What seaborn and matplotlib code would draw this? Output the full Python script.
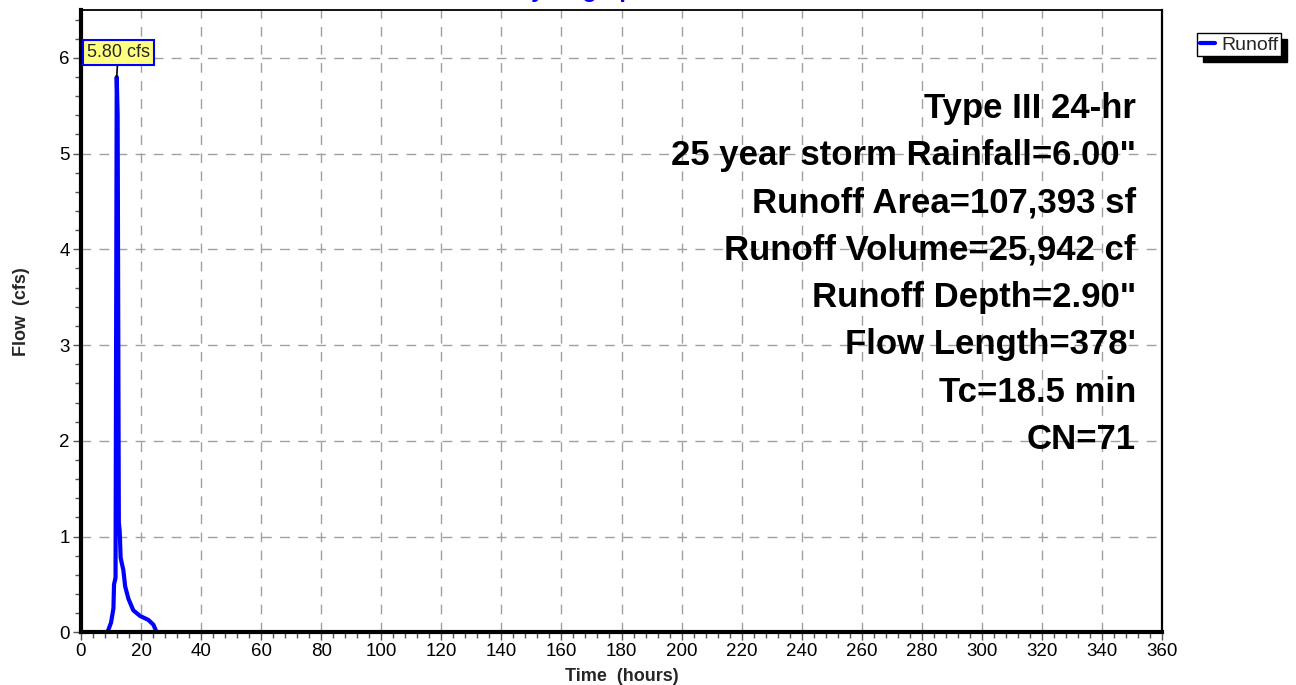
import matplotlib
matplotlib.use("Agg")
import matplotlib.pyplot as plt
from matplotlib.ticker import MultipleLocator
import seaborn as sns
import pandas as pd

# Hydrograph values (hours, cfs)
time_hr = [0, 8.8, 10.0, 10.8, 11.0, 11.5, 11.9, 12.2, 12.6, 12.9, 13.2, 13.6,
           14.1, 14.7, 15.8, 17.4, 19.7, 22.4, 24.1, 25.2, 360]
flow_cfs = [0, 0, 0.10, 0.25, 0.50, 0.57, 5.80, 5.40, 1.15, 1.05, 0.78, 0.72,
            0.65, 0.48, 0.35, 0.23, 0.17, 0.13, 0.08, 0.0, 0]
peak_label = "5.80 cfs"
series_name = "Runoff"
info_lines = [
    "Type III 24-hr",
    "25 year storm Rainfall=6.00\"",
    "Runoff Area=107,393 sf",
    "Runoff Volume=25,942 cf",
    "Runoff Depth=2.90\"",
    "Flow Length=378'",
    "Tc=18.5 min",
    "CN=71",
]

df = pd.DataFrame({"Time": time_hr, "Flow": flow_cfs, "series": series_name})

sns.set_theme(style="white")
plt.rcParams["font.family"] = ["Liberation Sans", "DejaVu Sans"]

W, H = 1296, 685
fig = plt.figure(figsize=(W / 100, H / 100), dpi=100)
ax = fig.add_axes([81 / W, 1 - 632.3 / H, (1162 - 81) / W, (632.3 - 10) / H])

sns.lineplot(data=df, x="Time", y="Flow", hue="series", palette=["#0000ff"],
             linewidth=3, ax=ax, legend=False)

ax.set_xlim(0, 360)
ax.set_ylim(0, 6.5)
ax.xaxis.set_major_locator(MultipleLocator(20))
ax.xaxis.set_minor_locator(MultipleLocator(4))
ax.yaxis.set_major_locator(MultipleLocator(1))
ax.yaxis.set_minor_locator(MultipleLocator(0.2))
ax.tick_params(axis="both", which="major", direction="out", length=6, width=1,
               color="#555555", labelsize=13.5, labelcolor="black", pad=2)
ax.tick_params(axis="both", which="minor", direction="out", length=4, width=1,
               color="#555555")
ax.tick_params(axis="x", which="both", bottom=True)
ax.tick_params(axis="y", which="both", left=True)

ax.grid(True, which="major", color="#a0a0a0", linestyle=(0, (7, 6)), linewidth=1)

for side, lw in [("left", 3), ("bottom", 3), ("top", 1.3), ("right", 1.6)]:
    ax.spines[side].set_visible(True)
    ax.spines[side].set_color("black")
    ax.spines[side].set_linewidth(lw)

ax.set_xlabel("Time  (hours)", fontsize=13, fontweight="bold")
ax.set_ylabel("Flow  (cfs)", fontsize=13, fontweight="bold")
ax.xaxis.set_label_coords(0.5, -0.057)
ax.yaxis.set_label_coords(-0.047, 0.515)

# peak callout
i_peak = flow_cfs.index(max(flow_cfs))
ax.annotate(peak_label, xy=(time_hr[i_peak], flow_cfs[i_peak]),
            xytext=(1, 17.5), textcoords="offset points", ha="center", va="center",
            fontsize=13,
            bbox=dict(boxstyle="square,pad=0.22", fc="#ffff80", ec="#0000ff", lw=1.5),
            arrowprops=dict(arrowstyle="-", color="black", lw=1.2,
                            shrinkA=0, shrinkB=0))

# storm summary text
for i, line in enumerate(info_lines):
    fig.text(1136 / W, 1 - (118 + 47.3 * i) / H, line, ha="right", va="baseline",
             fontsize=25, fontweight="bold", color="black")

# title (clipped at the top edge as in the reference)
fig.text(582 / W, 1 + 3 / H, "Hydrograph", ha="center", va="baseline",
         fontsize=17, fontweight="bold", color="#0000ff")

# legend with a hard black shadow
handle = plt.Line2D([], [], color="#0000ff", lw=3)
fig.legend([handle], [series_name], loc="upper left",
           bbox_to_anchor=(1197 / W, 1 - 33 / H), bbox_transform=fig.transFigure,
           fontsize=14, frameon=True, fancybox=False, edgecolor="black",
           framealpha=1, borderpad=0.15, handlelength=0.8, handletextpad=0.3,
           borderaxespad=0,
           shadow={"color": "black", "alpha": 1, "ox": 4, "oy": -4})

fig.savefig("out.png", dpi=100)
